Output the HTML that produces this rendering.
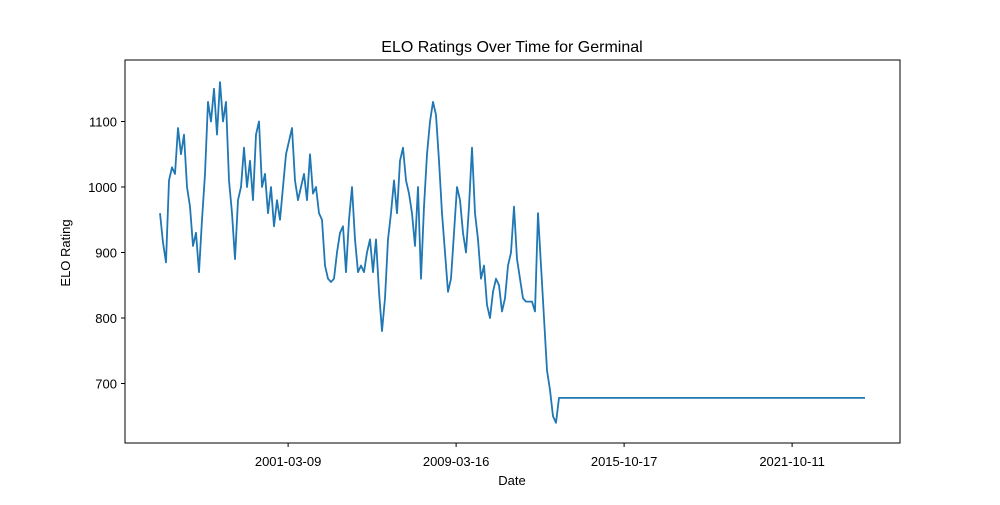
<!DOCTYPE html>
<html><head><meta charset="utf-8"><style>
body{margin:0;background:#fff;font-family:"Liberation Sans","DejaVu Sans",sans-serif}
</style></head><body>
<svg id="chart" width="1000" height="500" xmlns="http://www.w3.org/2000/svg">
<rect width="1000" height="500" fill="#fff"/>
<text x="512" y="52" text-anchor="middle" font-size="16">ELO Ratings Over Time for Germinal</text>
<g id="plot"></g>
<rect x="125" y="60" width="775" height="383" fill="none" stroke="#000" stroke-width="1"/>
<text x="512" y="485" text-anchor="middle" font-size="13">Date</text>
<text x="0" y="0" transform="translate(70,253) rotate(-90)" text-anchor="middle" font-size="13">ELO Rating</text>
</svg>
<script>
const elo=[960,915,885,1010,1030,1020,1090,1050,1080,1000,970,910,930,870,950,1020,1130,1100,1150,1080,1160,1100,1130,1010,960,890,980,1000,1060,1000,1040,980,1080,1100,1000,1020,960,1000,940,980,950,1000,1050,1070,1090,1010,980,1000,1020,980,1050,990,1000,960,950,880,860,855,860,900,930,940,870,950,1000,920,870,880,870,900,920,870,920,840,780,830,920,960,1010,960,1040,1060,1010,990,960,910,1000,860,970,1050,1100,1130,1110,1040,960,900,840,860,930,1000,980,930,900,970,1060,960,920,860,880,820,800,840,860,850,810,830,880,900,970,890,860,830,825,825,825,810,960,880,800,720,690,650,640,678];
const idx=elo.map((v,i)=>i);
idx.push(235); elo.push(678);
const yTicks=[700,800,900,1000,1100];
const xTickLabels=["2001-03-09","2009-03-16","2015-10-17","2021-10-11"];
const xTickIdx=[42.7,98.7,154.7,210.7];
const X=t=>160+t*3;
const Y=v=>187-(v-1000)*0.655;
const g=document.getElementById('plot');
const ns='http://www.w3.org/2000/svg';
function mk(tag,attrs){const e=document.createElementNS(ns,tag);for(const k in attrs)e.setAttribute(k,attrs[k]);return e;}
yTicks.forEach(v=>{
  const l=mk('line',{x1:121,x2:125,y1:Y(v),y2:Y(v),stroke:'#000'});
  
  
  g.appendChild(l);
  const t=mk('text',{x:117,y:Y(v)+5,'text-anchor':'end','font-size':13});
  
  
  t.textContent=v;g.appendChild(t);
});
xTickIdx.forEach((ti,i)=>{
  const x=X(ti);
  const l=mk('line',{x1:x,x2:x,y1:443,y2:447,stroke:'#000'});
  
  
  g.appendChild(l);
  const t=mk('text',{x:x,y:466,'text-anchor':'middle','font-size':13});
  
  
  t.textContent=xTickLabels[i];g.appendChild(t);
});
const p=mk('polyline',{points:idx.map((t,i)=>X(t)+','+Y(elo[i])).join(' '),fill:'none',stroke:'#1f77b4','stroke-width':1.8,'stroke-linejoin':'round'});


g.appendChild(p);
</script>
</body></html>
